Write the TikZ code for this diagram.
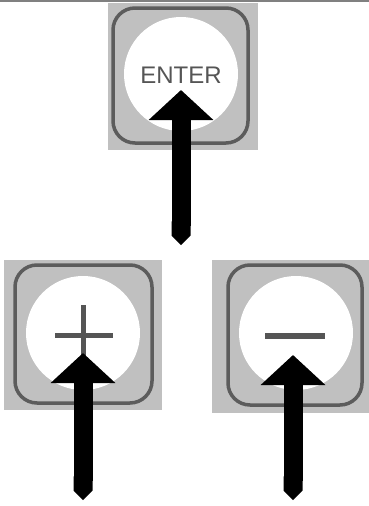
\documentclass[tikz,border=0pt]{standalone}
\usepackage{fontspec}
\setsansfont{Liberation Sans}
\usetikzlibrary{arrows.meta}

\definecolor{keygrey}{HTML}{C0C0C0}
\definecolor{rimgrey}{HTML}{5C5C5C}
\definecolor{signgrey}{HTML}{555555}

\tikzset{
  keybg/.style={fill=keygrey, draw=none, inner sep=0pt},
  keyrim/.style={draw=rimgrey, line width=3.5pt, rounded corners=22pt, inner sep=0pt},
  keyface/.style={circle, fill=white, draw=none, minimum size=114pt, inner sep=0pt},
  keysign/.style={signgrey, line width=5pt},
  pusharrow/.style={line width=19pt, {Triangle Cap[]}-{Triangle[width=63pt,length=30pt]}}
}

\begin{document}
\begin{tikzpicture}[x=1pt,y=-1pt]
\useasboundingbox (0,0) rectangle (369,506);
\draw[gray, line width=2pt] (0,1) -- (369,1);

% enter key
\node[keybg, minimum width=150pt, minimum height=147pt] (enterbg) at (183,76.5) {};
\node[keyrim, minimum width=135pt, minimum height=135pt] (enterrim) at (180.5,75.5) {};
\node[keyface] (enterface) at (181,74) {};
\node[text=signgrey, font=\sffamily\fontsize{24}{24}\selectfont] (enterlabel) at (181,75) {ENTER};

% plus key
\node[keybg, minimum width=158pt, minimum height=150pt] (plusbg) at (83,335) {};
\node[keyrim, minimum width=137pt, minimum height=138pt] (plusrim) at (83.5,334) {};
\node[keyface] (plusface) at (83,333) {};
\draw[keysign] (55,335) -- (113,335);
\draw[keysign] (83,305) -- (83,360);

% minus key
\node[keybg, minimum width=157pt, minimum height=153pt] (minusbg) at (290.5,336.5) {};
\node[keyrim, minimum width=134pt, minimum height=140pt] (minusrim) at (295,335) {};
\node[keyface] (minusface) at (296,333) {};
\draw[keysign, line width=6pt] (265,336) -- (325,336);

% arrows
\coordinate (enterfoot) at (181,245);
\coordinate (entertip) at (181,90);
\coordinate (plusfoot) at (83,500);
\coordinate (plustip) at (83,353);
\coordinate (minusfoot) at (293,500);
\coordinate (minustip) at (293,355);
\draw[pusharrow] (enterfoot) -- (entertip);
\draw[pusharrow] (plusfoot) -- (plustip);
\draw[pusharrow] (minusfoot) -- (minustip);
\end{tikzpicture}
\end{document}
